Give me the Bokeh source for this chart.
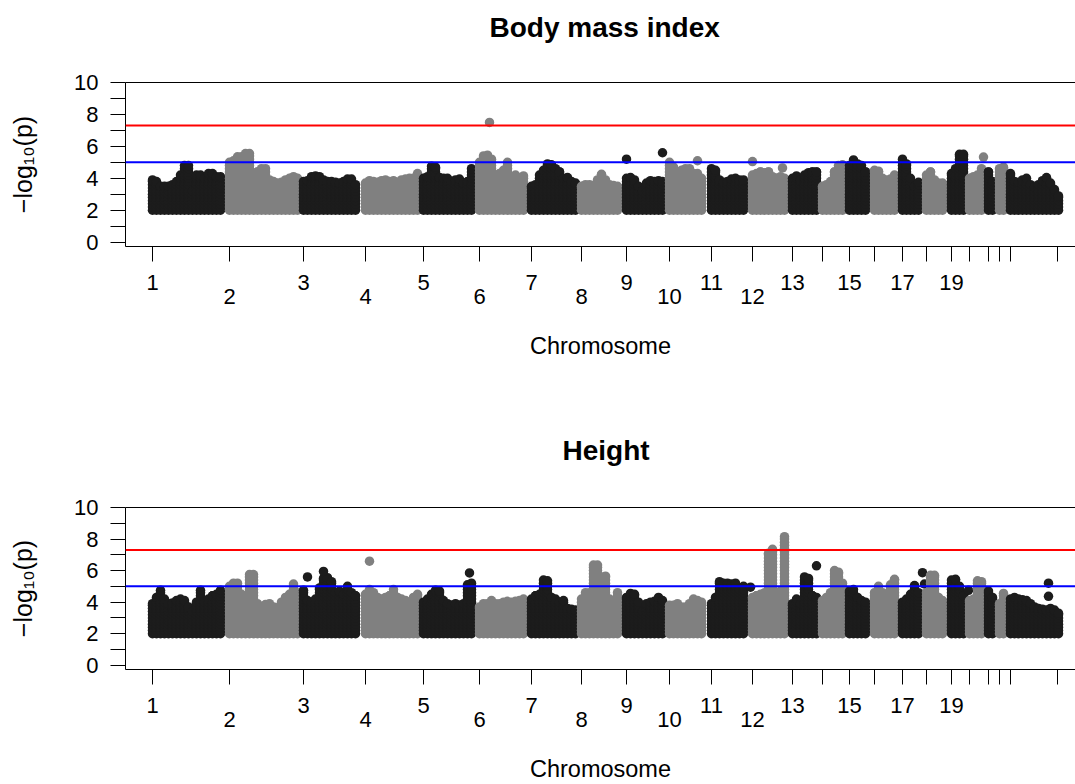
import numpy as np
from bokeh.plotting import figure
from bokeh.layouts import column
from bokeh.models import Range1d, FixedTicker, LinearAxis, Span
from bokeh.embed import file_html
from bokeh.resources import INLINE

# ---------------- data ----------------
# chromosome start positions on the (scaled) cumulative genome axis
chrom_start = [152, 229, 303, 365, 423, 479, 531, 581, 626, 669, 711, 752,
               792, 822, 849, 874, 902, 926, 951, 969, 988, 999, 1010]
tick_pos = chrom_start + [1057]
tick_row1 = ["1", "", "3", "", "5", "", "7", "", "9", "", "11", "", "13", "",
             "15", "", "17", "", "19", "", "", "", "", ""]
tick_row2 = ["", "2", "", "4", "", "6", "", "8", "", "10", "", "12", "", "",
             "", "", "", "", "", "", "", "", "", ""]
col_step = 4          # spacing between SNP columns (axis units)
base_logp = 2.0       # only SNPs with -log10(p) >= 2 plotted

# upper edge of -log10(p) in successive SNP columns, per chromosome
bmi_tops = [
    [3.9, 3.8, 3.5, 3.5, 3.5, 3.6, 3.8, 4.2, 4.8, 4.8, 3.2, 4.2, 4.2, 4.0, 4.3, 4.3, 4.1, 4.1],
    [5.0, 5.1, 5.35, 5.35, 5.55, 5.55, 4.3, 4.4, 4.6, 4.6, 3.9, 3.8, 3.7, 3.75, 3.9, 4.0, 4.1, 4.0],
    [3.8, 3.85, 4.1, 4.15, 4.1, 3.9, 3.8, 3.8, 3.75, 3.7, 3.8, 3.95, 3.95, 3.6],
    [3.7, 3.85, 3.8, 3.75, 3.85, 3.9, 3.8, 3.85, 3.75, 3.9, 3.95, 4.0, 4.0, 4.3],
    [4.0, 4.1, 4.75, 4.7, 4.05, 4.0, 4.0, 3.8, 3.9, 3.95, 3.7, 3.8, 4.6],
    [5.0, 5.4, 5.45, 5.2, 4.2, 4.3, 4.5, 5.0, 4.1, 4.2, 4.0, 4.15],
    [3.5, 3.6, 4.2, 4.5, 4.9, 4.85, 4.6, 4.4, 4.0, 4.05, 3.8, 3.7],
    [3.5, 3.6, 3.6, 3.55, 3.9, 4.25, 3.9, 3.6, 3.55, 3.5],
    [4.0, 4.05, 3.9, 3.5, 3.2, 3.7, 3.85, 3.8, 3.85, 3.8],
    [5.0, 4.7, 4.2, 4.5, 4.6, 4.6, 4.3, 4.3, 4.0],
    [4.6, 4.5, 3.9, 3.75, 3.8, 3.95, 4.0, 3.9, 3.9],
    [4.2, 4.3, 4.4, 4.35, 4.4, 4.1, 4.0, 4.1, 4.0],
    [4.0, 4.15, 3.9, 4.2, 4.35, 4.4, 4.4],
    [3.5, 3.6, 3.8, 4.4, 4.8, 4.85],
    [4.8, 5.15, 4.9, 4.8, 4.4],
    [4.5, 4.45, 4.0, 3.9, 3.95, 4.2],
    [5.2, 4.9, 4.0, 3.5, 3.75],
    [4.2, 4.4, 3.9, 3.7, 3.7],
    [4.3, 4.6, 5.5, 5.5],
    [4.0, 4.1, 4.2, 4.6],
    [4.4, 3.8],
    [4.6, 4.7],
    [4.3, 3.8, 3.75, 3.9, 4.0, 3.6, 3.45, 3.6, 3.85, 4.05, 3.7, 3.3, 2.9],
]
# isolated SNPs above the main band (chromosome, position, -log10 p)
bmi_hit_chr = [6, 9, 9, 10, 12, 12, 20]
bmi_hit_pos = [489, 626, 662, 697, 752, 782, 983]
bmi_hit_val = [7.5, 5.2, 5.6, 5.1, 5.05, 4.65, 5.33]

height_tops = [
    [3.9, 4.3, 4.75, 4.2, 3.9, 3.95, 4.1, 4.2, 4.1, 3.7, 3.4, 4.0, 4.75, 4.0, 4.2, 4.4, 4.5, 4.75],
    [5.0, 5.2, 5.2, 4.5, 4.3, 5.75, 5.75, 3.9, 3.7, 3.85, 3.9, 3.7, 3.65, 4.0, 4.3, 4.5, 5.15, 4.6],
    [4.75, 4.1, 4.0, 4.2, 4.9, 5.5, 5.55, 5.3, 4.6, 4.7, 4.5, 5.0, 4.6, 4.4],
    [4.5, 4.8, 4.6, 4.3, 4.2, 4.3, 4.4, 4.8, 4.3, 4.2, 4.1, 4.0, 4.3, 4.5],
    [4.0, 4.2, 4.5, 4.75, 4.7, 4.1, 3.9, 3.8, 3.9, 3.8, 3.9, 5.1, 5.2],
    [3.7, 3.9, 3.9, 4.1, 3.9, 3.9, 4.0, 4.05, 4.0, 4.05, 4.1, 4.2],
    [4.2, 4.4, 4.5, 5.4, 5.35, 4.3, 4.2, 4.0, 4.1, 3.6, 3.55, 3.5],
    [4.2, 4.6, 4.6, 6.35, 6.35, 5.6, 5.65, 4.2, 3.9, 4.6],
    [4.3, 4.55, 4.5, 4.0, 3.4, 3.9, 4.0, 4.05, 4.3, 4.1],
    [3.8, 3.8, 3.9, 3.7, 3.7, 3.9, 4.2, 4.1, 4.0],
    [3.9, 4.3, 5.3, 5.2, 5.2, 5.15, 5.2, 4.8, 5.0],
    [4.3, 4.4, 4.5, 4.6, 7.1, 7.35, 4.6, 4.7, 8.15],
    [3.9, 4.2, 3.9, 5.6, 5.5, 4.4, 4.3],
    [4.1, 4.3, 4.6, 6.0, 5.9, 5.2],
    [4.7, 4.8, 4.3, 4.1, 4.0],
    [4.6, 5.0, 4.6, 4.4, 5.1, 5.45],
    [4.0, 4.2, 4.5, 5.05, 4.6],
    [4.6, 5.7, 5.7, 4.3, 4.1],
    [5.4, 5.45, 5.0, 4.4],
    [4.1, 4.2, 5.35, 5.3],
    [4.7, 4.3],
    [3.9, 4.55],
    [4.2, 4.3, 4.2, 4.15, 4.1, 3.9, 3.7, 3.6, 3.55, 3.5, 3.6, 3.5, 3.3],
]
height_hit_chr = [3, 3, 4, 5, 11, 13, 17, 17, 19, 23, 23]
height_hit_pos = [307, 323, 369, 469, 750, 816, 922, 924, 968, 1048, 1048]
height_hit_val = [5.6, 5.95, 6.6, 5.85, 4.95, 6.3, 5.87, 5.15, 4.75, 5.2, 4.37]

genome_wide = 7.3
suggestive = 5.0

# ---------------- styling ----------------
FONT = "Liberation Sans"
DARK = "#1c1c1c"
GREY = "#808080"


def build_points(tops_list, hit_chr, hit_pos, hit_val):
    xs, ys, cs = [], [], []
    for ci, tops in enumerate(tops_list):
        colr = DARK if ci % 2 == 0 else GREY
        for j, top in enumerate(tops):
            x = chrom_start[ci] + col_step * j
            vals = list(np.arange(base_logp, top, 0.2)) + [top]
            for v in vals:
                xs.append(x)
                ys.append(float(v))
                cs.append(colr)
        for c, xp, v in zip(hit_chr, hit_pos, hit_val):
            if c == ci + 1:
                xs.append(xp)
                ys.append(v)
                cs.append(colr)
    return xs, ys, cs


def make_panel(title, title_offset, tops_list, hit_chr, hit_pos, hit_val,
               height, border_top, border_bottom, title_gap):
    p = figure(width=1075, height=height,
               x_range=Range1d(125, 1075), y_range=Range1d(-0.27, 10),
               output_backend="svg", toolbar_location=None,
               min_border_left=125, min_border_right=0,
               min_border_top=border_top, min_border_bottom=border_bottom,
               title=title)
    p.outline_line_color = None
    p.grid.visible = False
    p.background_fill_color = "white"
    p.border_fill_color = "white"

    xax = p.below[0]
    yax = p.left[0]

    # y axis
    yt = list(range(0, 11))
    yax.ticker = FixedTicker(ticks=yt)
    yax.major_label_overrides = {t: (str(t) if t % 2 == 0 else "") for t in yt}
    yax.major_tick_out = 15
    yax.major_tick_in = 0
    yax.minor_tick_out = 0
    yax.minor_tick_in = 0
    yax.major_label_standoff = 12
    yax.major_label_text_font = FONT
    yax.major_label_text_font_size = "22px"
    yax.major_label_text_color = "black"
    yax.axis_label = "\u2212log\u2081\u2080(p)"
    yax.axis_label_text_font = FONT
    yax.axis_label_text_font_style = "normal"
    yax.axis_label_text_font_size = "25px"
    yax.axis_label_text_color = "black"
    yax.axis_label_standoff = 34
    yax.axis_line_color = "black"

    # x axis, first row of labels (with ticks)
    xax.ticker = FixedTicker(ticks=tick_pos)
    xax.major_label_overrides = {t: l for t, l in zip(tick_pos, tick_row1)}
    xax.major_tick_out = 15
    xax.major_tick_in = 0
    xax.minor_tick_out = 0
    xax.minor_tick_in = 0
    xax.major_label_standoff = 13
    xax.major_label_text_font = FONT
    xax.major_label_text_font_size = "22px"
    xax.major_label_text_color = "black"
    xax.axis_line_color = "black"

    # second row of labels (staggered) and axis title
    ax2 = LinearAxis(ticker=FixedTicker(ticks=tick_pos),
                     major_label_overrides={t: l for t, l in zip(tick_pos, tick_row2)},
                     major_tick_out=0, major_tick_in=0, minor_tick_out=0, minor_tick_in=0,
                     axis_line_color=None, major_label_standoff=-4,
                     major_label_text_font=FONT, major_label_text_font_size="22px",
                     major_label_text_color="black",
                     axis_label="Chromosome", axis_label_text_font=FONT,
                     axis_label_text_font_style="normal", axis_label_text_font_size="23.5px",
                     axis_label_text_color="black",
                     axis_label_standoff=26)
    p.add_layout(ax2, "below")

    # top edge of the box; an invisible tick reserves the space under the title
    top_ax = LinearAxis(ticker=FixedTicker(ticks=[600]), major_label_overrides={600: ""},
                        major_tick_out=title_gap, major_tick_in=0,
                        minor_tick_out=0, minor_tick_in=0,
                        major_label_standoff=0, axis_line_color="black",
                        major_tick_line_color=None, minor_tick_line_color=None,
                        major_label_text_font_size="1px")
    p.add_layout(top_ax, "above")

    p.title.text_font = FONT
    p.title.text_font_size = "28px"
    p.title.text_font_style = "bold"
    p.title.text_color = "black"
    p.title.align = "left"
    p.title.offset = title_offset
    p.title.standoff = 10

    xs, ys, cs = build_points(tops_list, hit_chr, hit_pos, hit_val)
    p.scatter(xs, ys, size=9.5, fill_color=cs, line_color=None, marker="circle")

    p.add_layout(Span(location=genome_wide, dimension="width", line_color="#ff0000", line_width=2))
    p.add_layout(Span(location=suggestive, dimension="width", line_color="#0000ff", line_width=2))
    return p


p1 = make_panel("Body mass index", 364, bmi_tops, bmi_hit_chr, bmi_hit_pos, bmi_hit_val,
                421, 82, 175, 35)
p2 = make_panel("Height", 437, height_tops, height_hit_chr, height_hit_pos, height_hit_val,
                363, 86, 112, 37)

layout = column(p1, p2, spacing=0)
open("out.html", "w").write(file_html(layout, INLINE))
